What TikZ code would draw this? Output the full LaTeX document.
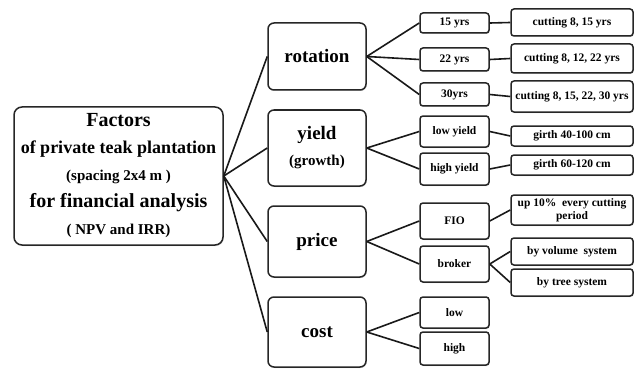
\documentclass[tikz,border=0pt]{standalone}
\usepackage{fontspec}
\setmainfont{Liberation Serif}
\usetikzlibrary{shadows}

\begin{document}
\begin{tikzpicture}[x=1pt,y=-1pt,
	box/.style={draw=black!85,line width=1.5pt,fill=white,align=center,inner sep=1pt,
		drop shadow={shadow xshift=0.8pt,shadow yshift=-1pt,opacity=0.3}},
	mainbox/.style={box,rounded corners=8pt,minimum width=209pt,minimum height=138pt,
		font=\bfseries\fontsize{15}{27}\selectfont},
	factorbox/.style={box,rounded corners=6pt,minimum width=98pt,
		font=\bfseries\fontsize{19}{22}\selectfont},
	optbox/.style={box,rounded corners=3pt,minimum width=69pt,
		font=\bfseries\fontsize{11.5}{12.5}\selectfont},
	detailbox/.style={box,rounded corners=3pt,minimum width=122pt,
		font=\bfseries\fontsize{11.5}{12.5}\selectfont},
	link/.style={line width=1.6pt,black!90}]

\useasboundingbox (0,0) rectangle (635,369);

% column centres
\def\colA{118.5}
\def\colB{317}
\def\colC{454.5}
\def\colD{572}

\node[mainbox] (factors) at (\colA,176) {%
	{\fontsize{20}{27}\selectfont Factors}\\
	{\fontsize{18}{27}\selectfont of private teak plantation}\\
	(spacing 2x4 m )\\
	{\fontsize{20}{27}\selectfont for financial analysis}\\
	( NPV and IRR)};

% factors
\node[factorbox,minimum height=67pt] (rotation) at (\colB,56.5) {rotation};
\node[factorbox,minimum height=76pt] (yield) at (\colB,148) {yield\\[4pt]{\fontsize{15}{18}\selectfont (growth)}};
\node[factorbox,minimum height=71pt] (price) at (\colB,241.5) {price};
\node[factorbox,minimum height=70pt] (cost) at (\colB,332) {cost};

% options
\node[optbox,minimum height=20pt] (yrs15) at (\colC,23) {15 yrs};
\node[optbox,minimum height=23pt] (yrs22) at (\colC,59.5) {22 yrs};
\node[optbox,minimum height=23pt] (yrs30) at (\colC,94.5) {30yrs};
\node[optbox,minimum height=31pt] (lowyield) at (\colC,131.5) {low yield};
\node[optbox,minimum height=32pt] (highyield) at (\colC,169) {high yield};
\node[optbox,minimum height=36pt] (fio) at (\colC,221) {FIO};
\node[optbox,minimum height=36pt] (broker) at (\colC,264) {broker};
\node[optbox,minimum height=31pt] (costlow) at (\colC,312.5) {low};
\node[optbox,minimum height=33pt] (costhigh) at (\colC,348.5) {high};

% details
\node[detailbox,minimum height=27pt] (cut15) at (\colD,22.5) {cutting 8, 15 yrs};
\node[detailbox,minimum height=29pt] (cut22) at (\colD,58.5) {cutting 8, 12, 22 yrs};
\node[detailbox,minimum height=31pt] (cut30) at (\colD,96.5) {cutting 8, 15, 22, 30 yrs};
\node[detailbox,minimum height=20pt] (girthlow) at (\colD,136) {girth 40-100 cm};
\node[detailbox,minimum height=20pt] (girthhigh) at (\colD,165) {girth 60-120 cm};
\node[detailbox,minimum height=30pt] (upten) at (\colD,210) {up 10\%\ \ every cutting\\period};
\node[detailbox,minimum height=27pt] (volume) at (\colD,251.5) {by volume\ \ system};
\node[detailbox,minimum height=27pt] (tree) at (\colD,282.5) {by tree system};

% connectors
\foreach \f in {rotation,yield,price,cost} {
	\draw[link] (factors.east) -- (\f.west);
}
\foreach \a/\b in {rotation/yrs15,rotation/yrs22,rotation/yrs30,yield/lowyield,yield/highyield,
	price/fio,price/broker,cost/costlow,cost/costhigh} {
	\draw[link] (\a.east) -- (\b.west);
}
\foreach \a/\b in {yrs15/cut15,yrs22/cut22,yrs30/cut30,lowyield/girthlow,highyield/girthhigh,
	fio/upten,broker/volume,broker/tree} {
	\draw[link] (\a.east) -- (\b.west);
}

\end{tikzpicture}
\end{document}
